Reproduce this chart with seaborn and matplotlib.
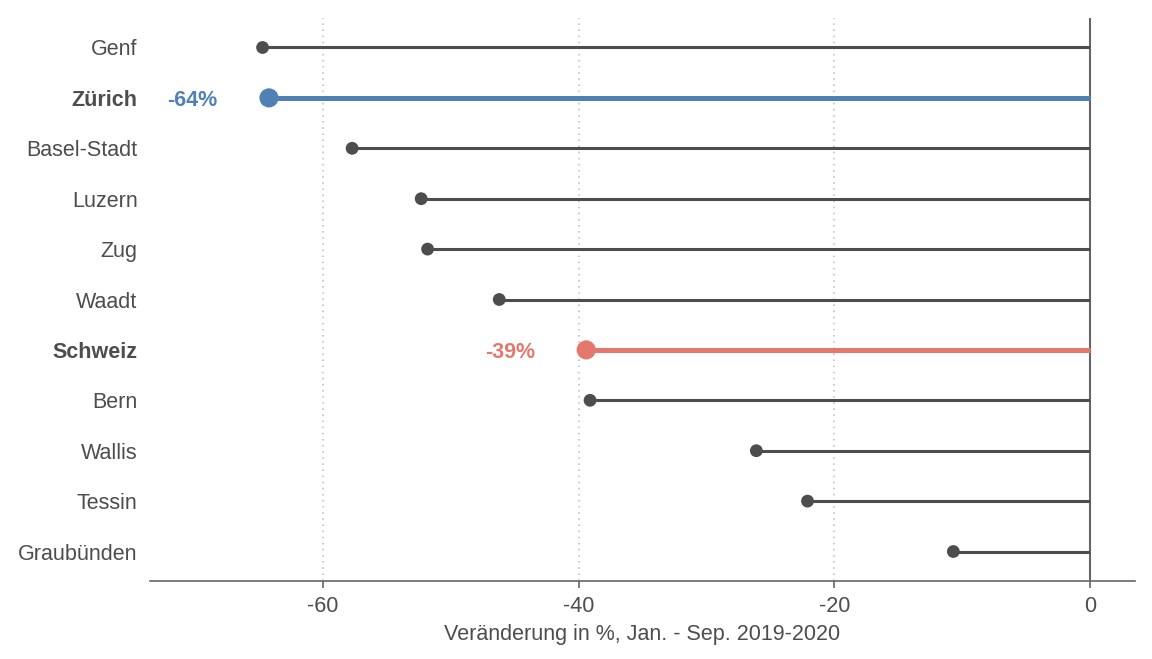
import pandas as pd
import seaborn as sns
import matplotlib.pyplot as plt

# Veränderung der Logiernächte nach Kanton
kantone = ['Genf', 'Zürich', 'Basel-Stadt', 'Luzern', 'Zug', 'Waadt',
           'Schweiz', 'Bern', 'Wallis', 'Tessin', 'Graubünden']
veraenderung = [-64.7, -64.2, -57.7, -52.3, -51.8, -46.2,
                -39.4, -39.1, -26.1, -22.1, -10.7]
highlight = {'Zürich': '#4f81b5', 'Schweiz': '#e5786d'}

grau = '#4d4d4d'

df = pd.DataFrame({'kanton': kantone, 'wert': veraenderung})
df['pos'] = range(len(df))

sns.set_style('white')
plt.rcParams['font.family'] = ['Liberation Sans', 'DejaVu Sans']
plt.rcParams['axes.unicode_minus'] = False

fig = plt.figure(figsize=(11.52, 6.59), dpi=100)
ax = fig.add_axes([150 / 1152, 78 / 659, 985 / 1152, 563 / 659])

# Linien von 0 bis Wert
for _, row in df.iterrows():
    farbe = highlight.get(row['kanton'], grau)
    lw = 3.6 if row['kanton'] in highlight else 2.2
    ax.hlines(row['pos'], row['wert'], 0, color=farbe, lw=lw, zorder=2)

normal = df[~df['kanton'].isin(highlight)]
hervor = df[df['kanton'].isin(highlight)]
sns.scatterplot(data=normal, x='wert', y='pos', color=grau, s=85,
                edgecolor='none', ax=ax, zorder=3)
sns.scatterplot(data=hervor, x='wert', y='pos', hue='kanton',
                palette=highlight, s=190, edgecolor='none', ax=ax,
                legend=False, zorder=3)

for _, row in hervor.iterrows():
    ax.text(row['wert'] - 4, row['pos'], f"{row['wert']:.0f}%",
            ha='right', va='center_baseline', fontsize=15.5, fontweight='bold',
            color=highlight[row['kanton']])

ax.axvline(0, color='#666666', lw=1.5, zorder=1)
for x in [-60, -40, -20]:
    ax.axvline(x, color='#bbbbbb', lw=1.1, ls=(0, (1, 3)), zorder=0)

ax.set_xlim(-73.5, 3.5)
ax.set_ylim(len(df) - 1 + 0.585, -0.585)
ax.set_xticks([-60, -40, -20, 0])
ax.set_yticks(df['pos'])
ax.set_yticklabels(df['kanton'])
for lbl in ax.get_yticklabels():
    if lbl.get_text() in highlight:
        lbl.set_fontweight('bold')

ax.tick_params(axis='x', colors='#666666', labelcolor=grau, labelsize=15.5,
               length=5, width=1.2, direction='out', bottom=True, pad=6)
ax.tick_params(axis='y', labelcolor=grau, labelsize=15.5, length=0, pad=9)
ax.set_xlabel('Veränderung in %, Jan. - Sep. 2019-2020', fontsize=15.5,
              color=grau, labelpad=5)
ax.set_ylabel('')

for side in ['top', 'right', 'left']:
    ax.spines[side].set_visible(False)
ax.spines['bottom'].set_color('#666666')
ax.spines['bottom'].set_linewidth(1.2)

fig.savefig('out.png', dpi=100)
